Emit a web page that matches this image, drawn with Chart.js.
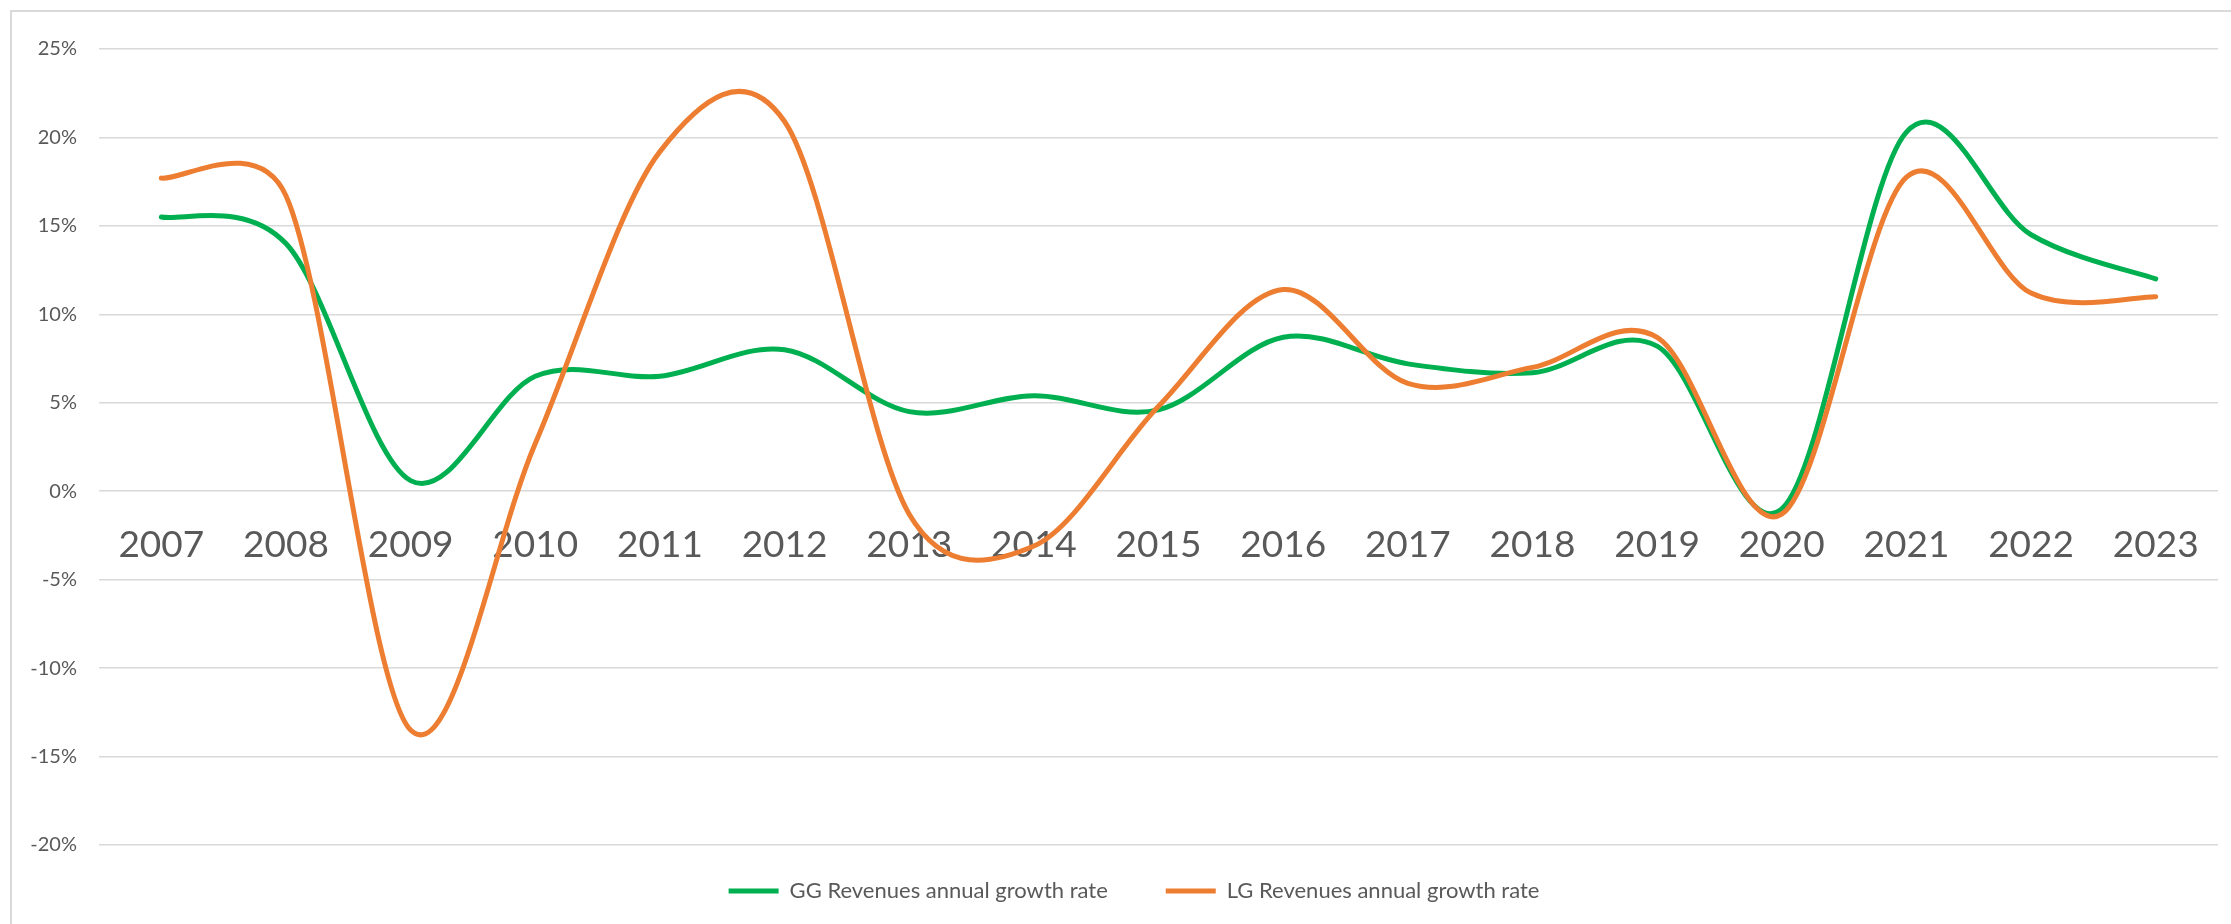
<!DOCTYPE html>
<html>
<head>
<meta charset="utf-8">
<script src="https://cdn.jsdelivr.net/npm/chart.js@4.4.1/dist/chart.umd.min.js"></script>
<style>
    html, body { margin: 0; padding: 0; background: #ffffff; }
    #wrap { position: relative; width: 2231px; height: 924px; overflow: hidden; }
    #frame { position: absolute; left: 10px; top: 10px; width: 2300px; height: 1000px;
             border-left: 2px solid #d9d9d9; border-top: 2px solid #d9d9d9; pointer-events: none; }
</style>
</head>
<body>
<div id="wrap">
    <canvas id="lineChartID" width="2231" height="924"></canvas>
    <div id="frame"></div>
</div>
<script>
const anos = ['2007', '2008', '2009', '2010', '2011', '2012', '2013', '2014', '2015',
              '2016', '2017', '2018', '2019', '2020', '2021', '2022', '2023'];
// growth rates in %
const ggValores = [15.5, 14.0, 0.6, 6.5, 6.5, 8.0, 4.5, 5.4, 4.6, 8.7, 7.2, 6.7, 8.2, -1.0, 20.3, 14.5, 12.0];
const lgValores = [17.7, 16.7, -13.5, 2.7, 19.2, 20.9, -1.3, -3.1, 4.8, 11.4, 6.1, 7.0, 8.7, -1.3, 17.75, 11.2, 11.0];
const yMin = -20;
const yMax = 25;
const yStep = 5;

const textColor = '#595959';
const gridColor = '#d9d9d9';

// Excel-like smoothing: Catmull-Rom control points from the pixel positions the scales gave each point,
// shortened next to a much shorter segment
const excelSmooth = {
    id: 'excelSmooth',
    beforeDatasetDraw(chart, args) {
        const pts = args.meta.data;
        const n = pts.length;
        for (let i = 0; i < n; i++) {
            const p = pts[i];
            const prev = pts[Math.max(i - 1, 0)];
            const next = pts[Math.min(i + 1, n - 1)];
            const tx = next.x - prev.x;
            const ty = next.y - prev.y;
            const d02 = Math.hypot(tx, ty) || 1;
            const dPrev = Math.hypot(p.x - prev.x, p.y - prev.y);
            const dNext = Math.hypot(next.x - p.x, next.y - p.y);
            const l1 = Math.min(d02 / 6, dPrev * 0.55);
            const l2 = Math.min(d02 / 6, dNext * 0.55);
            p.cp1x = p.x - tx / d02 * l1;
            p.cp1y = p.y - ty / d02 * l1;
            p.cp2x = p.x + tx / d02 * l2;
            p.cp2y = p.y + ty / d02 * l2;
        }
        args.meta.dataset._pointsUpdated = true;
        args.meta.dataset._path = undefined;
    }
};

// legend rows sit closer to the plot than the item spacing would give
const legendNudge = {
    id: 'legendNudge',
    afterLayout(chart) {
        chart.legend.top -= 23;
        chart.legend.bottom -= 23;
        chart.legend.left += 19;
        chart.legend.right += 19;
    }
};

const chartInstance = new Chart(document.getElementById('lineChartID'), {
    type: 'line',
    data: {
        labels: anos,
        datasets: [{
            label: 'GG Revenues annual growth rate',
            data: ggValores,
            borderColor: '#00B050',
            backgroundColor: '#00B050',
            borderWidth: 5,
            borderCapStyle: 'round',
            borderJoinStyle: 'round',
            pointRadius: 0,
            tension: 0.4,
            fill: false,
            order: 1
        }, {
            label: 'LG Revenues annual growth rate',
            data: lgValores,
            borderColor: '#ED7D31',
            backgroundColor: '#ED7D31',
            borderWidth: 5,
            borderCapStyle: 'round',
            borderJoinStyle: 'round',
            pointRadius: 0,
            tension: 0.4,
            fill: false,
            order: 0
        }]
    },
    plugins: [excelSmooth, legendNudge],
    options: {
        responsive: false,
        animation: false,
        layout: {
            padding: { left: 11, right: 12, top: 49, bottom: -11 }
        },
        plugins: {
            legend: {
                position: 'bottom',
                labels: {
                    usePointStyle: true,
                    pointStyle: 'line',
                    pointStyleWidth: 50,
                    padding: 58,
                    color: textColor,
                    font: { family: 'Lato', size: 22 },
                    sort: (a, b) => a.datasetIndex - b.datasetIndex
                }
            },
            tooltip: { enabled: false }
        },
        scales: {
            x: {
                offset: true,
                position: { y: 0 },
                grid: { display: false, drawTicks: false },
                border: { display: false },
                ticks: {
                    autoSkip: false,
                    maxRotation: 0,
                    padding: 32,
                    color: textColor,
                    font: { family: 'Lato', size: 37 }
                }
            },
            y: {
                min: yMin,
                max: yMax,
                afterFit: function (scale) {
                    scale.width = 88;
                },
                ticks: {
                    stepSize: yStep,
                    padding: 22,
                    color: textColor,
                    font: { family: 'Lato', size: 20 },
                    callback: function (value) {
                        return value + '%';
                    }
                },
                grid: {
                    color: gridColor,
                    lineWidth: 1.5,
                    drawTicks: false
                },
                border: { display: false }
            }
        }
    }
});
</script>
</body>
</html>
